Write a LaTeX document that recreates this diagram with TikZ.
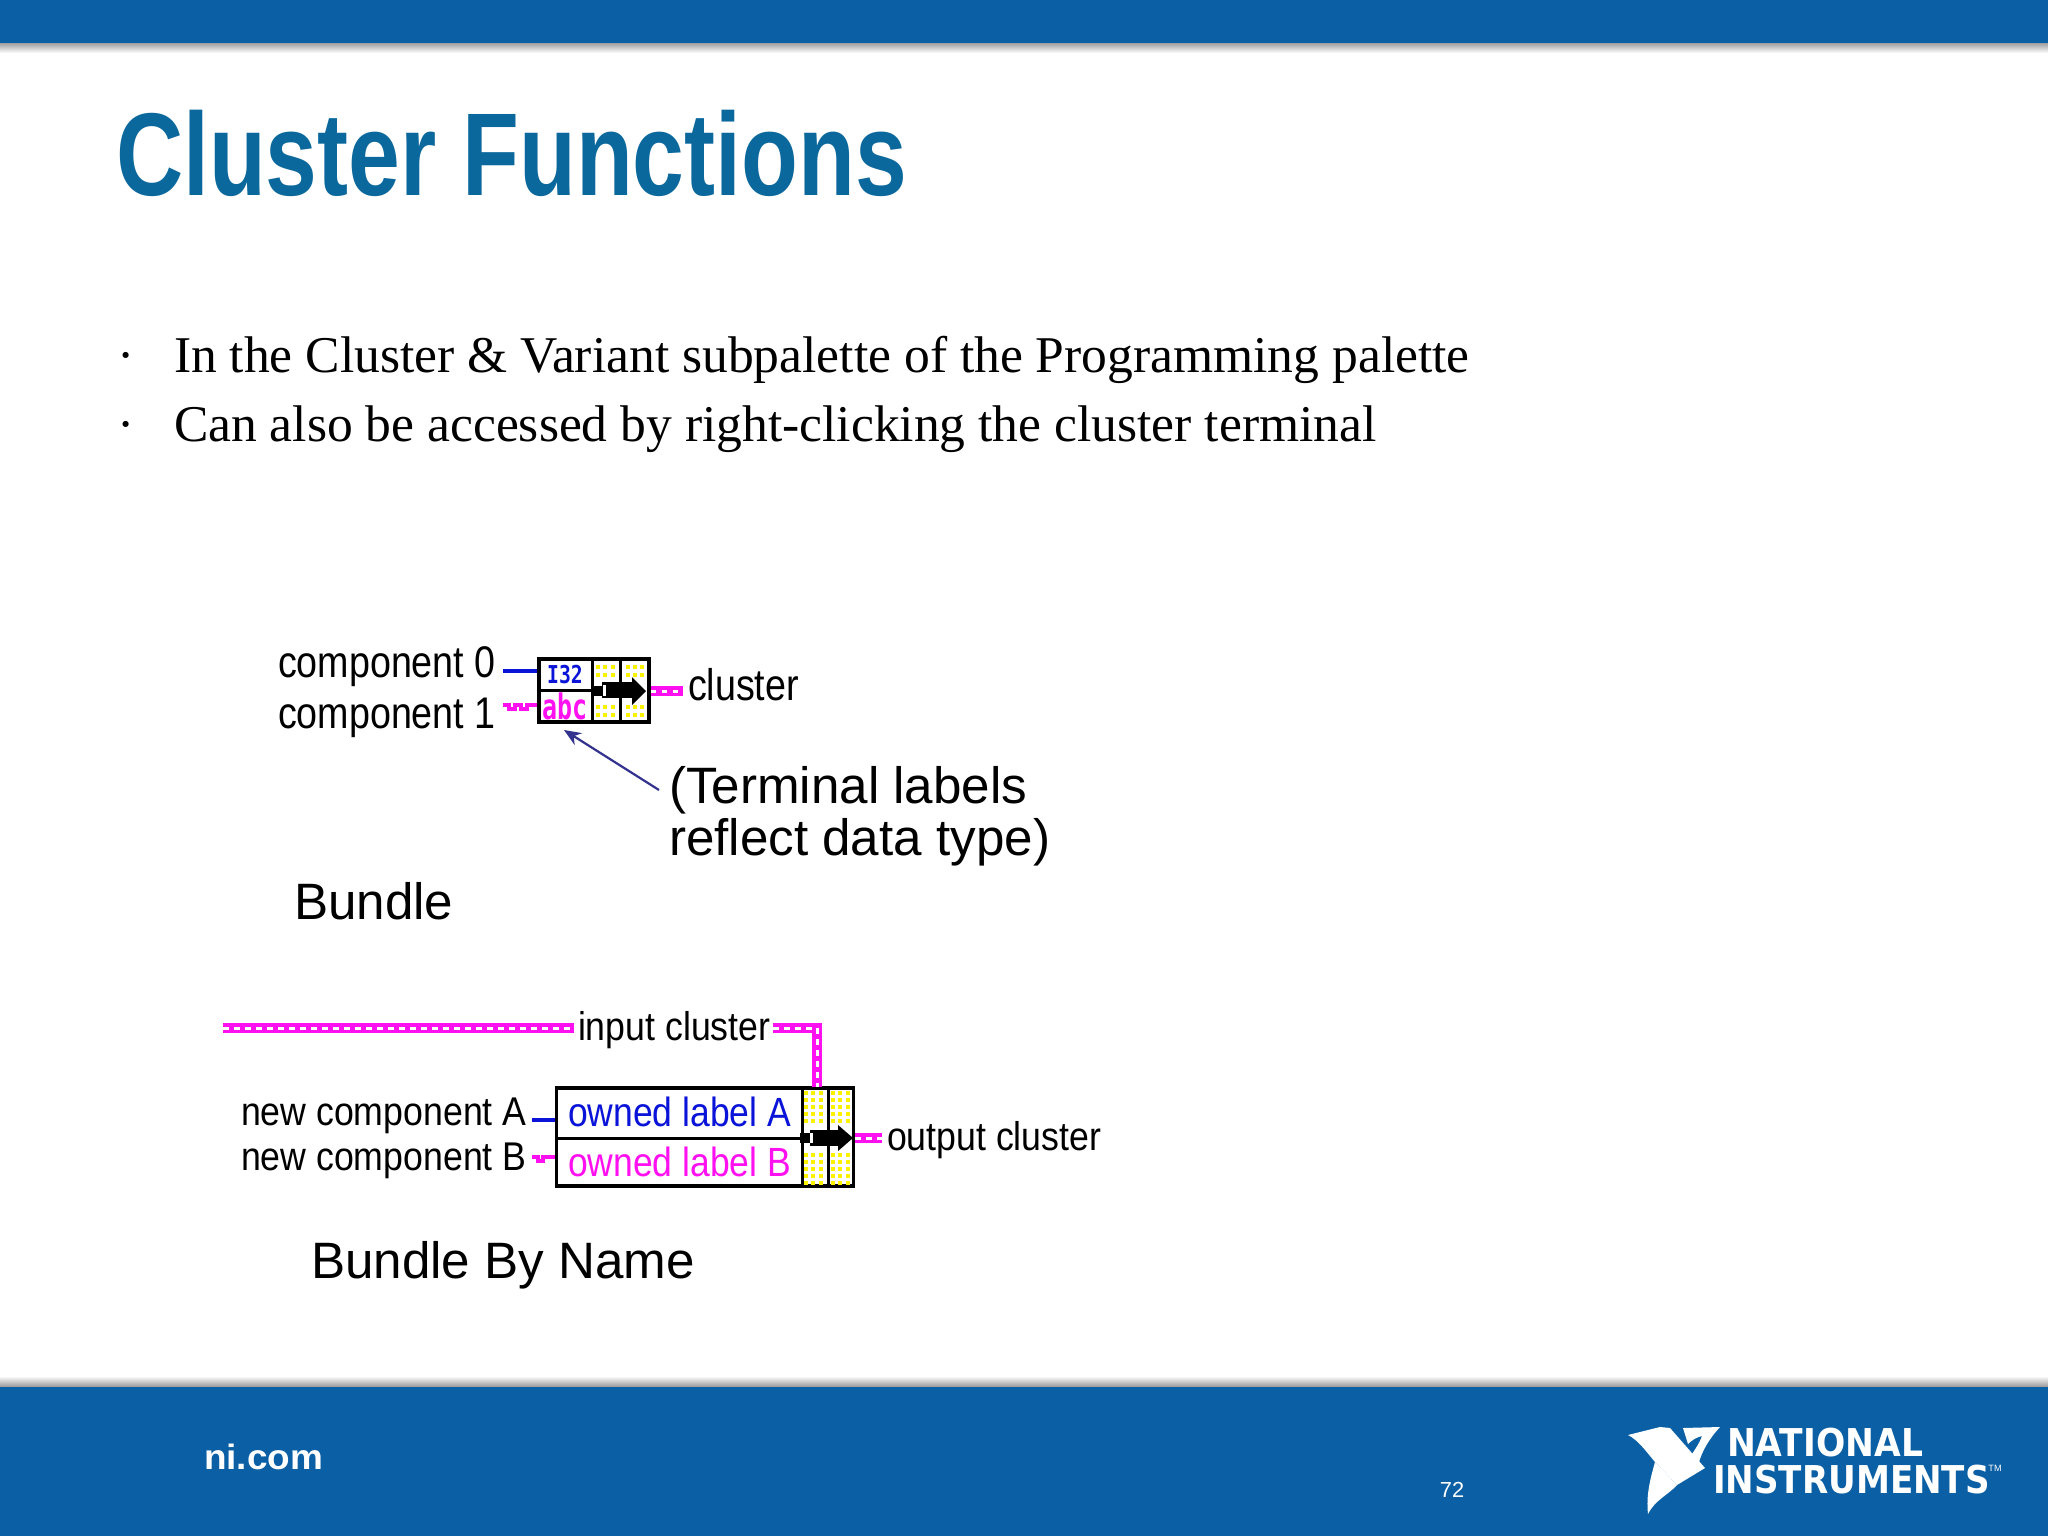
\documentclass[tikz,border=0pt]{standalone}
\usepackage{fontspec}
\setmainfont{Liberation Sans}
\newfontfamily\bodyserif{Liberation Serif}
\newfontfamily\iconmono{DejaVu Sans Mono}
\newfontfamily\logofont{DejaVu Sans}
\usetikzlibrary{arrows.meta}
\definecolor{nibar}{HTML}{0A5FA5}
\definecolor{nititle}{HTML}{0B689C}
\definecolor{wirepink}{HTML}{FF10F0}
\definecolor{wireblue}{HTML}{0A14D8}
\definecolor{notearrow}{HTML}{33338F}
\tikzset{
  plain/.style={inner sep=0,outer sep=0},
  pixtext/.style={plain,font=\fontsize{12.6}{15}\selectfont,xscale=0.85},
  pixsmall/.style={plain,font=\fontsize{11.4}{14}\selectfont,xscale=0.89},
  slidetext/.style={plain,font=\fontsize{14.55}{15}\selectfont,align=left},
  bullettext/.style={plain,anchor=base west,font=\bodyserif\fontsize{14.66}{17}\selectfont},
  iconbox/.style={draw=black,line width=0.035cm,fill=white,minimum width=#1},
  celldiv/.style={black,line width=0.03cm},
  clusterwire/.style={white,line width=0.03cm,dash pattern=on 0.055cm off 0.055cm,
    preaction={draw,solid,wirepink,line width=0.1cm}},
  numwire/.style={wireblue,line width=0.035cm},
  textwire/.style={wirepink,line width=0.04cm},
  logotext/.style={plain,anchor=base west,white,font=\logofont\bfseries\fontsize{10.9}{12}\selectfont},
}
\begin{document}
\begin{tikzpicture}[>=latex,x=0.01cm,y=-0.01cm]
\useasboundingbox (0,0) rectangle (2048,1536);
% bars
\fill[nibar] (0,0) rectangle (2048,43);
\shade[top color=gray!75,bottom color=white] (0,43) rectangle (2048,53);
\fill[nibar] (0,1386) rectangle (2048,1536);
\shade[top color=white,bottom color=gray!75] (0,1376) rectangle (2048,1386);
% title and bullets
\node[plain,anchor=base west,nititle,font=\bfseries\fontsize{33.5}{36}\selectfont,xscale=0.79] (title) at (116,195) {Cluster Functions};
\node[bullettext] (dota) at (117,372) {·};
\node[bullettext] (dotb) at (117,441) {·};
\node[bullettext] (linea) at (174,372) {In the Cluster \& Variant subpalette of the Programming palette};
\node[bullettext] (lineb) at (174,441) {Can also be accessed by right-clicking the cluster terminal};
% bundle
\node[iconbox=1.1cm,minimum height=0.63cm] (bundle) at (594,690.5) {};
\draw[celldiv] (592,658) -- (592,723);
\draw[celldiv] (620,658) -- (620,723);
\draw[celldiv] (538,690) -- (592,690);
\foreach \x in {598,605,613,628,635,642}
  \foreach \y in {667,675,707,715}
    \fill[yellow] (\x-2,\y-2) rectangle (\x+2,\y+2);
\node[plain,wireblue,font=\iconmono\bfseries\fontsize{7}{8}\selectfont,xscale=0.8] (itype) at (565,675) {I32};
\node[plain,wirepink,font=\iconmono\bfseries\fontsize{10}{11}\selectfont,xscale=0.71] (abc) at (565,706) {abc};
\fill[black] (592,686) rectangle (603,696);
\fill[black] (602,682) rectangle (634,698);
\fill[white] (603,685) rectangle (606,696);
\fill[black] (632,677) -- (646,691) -- (632,705) -- cycle;
\node[pixtext,anchor=west] (compa) at (278,667) {component 0};
\node[pixtext,anchor=west] (compb) at (278,718) {component 1};
\node[pixtext,anchor=west] (cluster) at (688,685) {cluster};
\coordinate (compaend) at (503,671);
\coordinate (compbend) at (503,705);
\coordinate (clusterend) at (683,691);
\draw[numwire] (compaend) -- (bundle.west |- compaend);
\draw[textwire] (compbend) -- ++(6,0) -- ++(0,4) -- ++(6,0) -- ++(0,-4) -- ++(6,0) -- ++(0,4) -- ++(6,0) -- ++(0,-4) -- (bundle.west |- compbend);
\draw[clusterwire] (bundle.east |- clusterend) -- (clusterend);
\node[slidetext,anchor=north west] (note) at (669,766) {(Terminal labels\\[0pt]reflect data type)};
\coordinate (notetip) at (564,730);
\coordinate (notetail) at (659,790);
\draw[-{Stealth[length=0.17cm,width=0.14cm]},notearrow,line width=0.022cm] (notetail) -- (notetip);
\node[slidetext,anchor=base west] (bundlename) at (294,919) {Bundle};
% bundle by name
\node[iconbox=2.97cm,minimum height=0.98cm] (byname) at (705,1137) {};
\draw[celldiv] (802,1087) -- (802,1187);
\draw[celldiv] (828,1087) -- (828,1187);
\draw[celldiv] (555,1138) -- (802,1138);
\foreach \x in {806,813,821,833,840,848}
  \foreach \y in {1093,1100,1107,1114,1121,1155,1162,1169,1176,1183}
    \fill[yellow] (\x-1.7,\y-1.7) rectangle (\x+1.7,\y+1.7);
\node[plain,wireblue,anchor=west,font=\fontsize{11.6}{14}\selectfont,xscale=0.87] (ownera) at (568,1112) {owned label A};
\node[plain,wirepink,anchor=west,font=\fontsize{11.6}{14}\selectfont,xscale=0.87] (ownerb) at (568,1162) {owned label B};
\fill[black] (800,1133) rectangle (811,1143);
\fill[black] (810,1130) rectangle (840,1146);
\fill[white] (810,1133) rectangle (813,1143);
\fill[black] (838,1125) -- (853,1138) -- (838,1151) -- cycle;
\node[pixsmall,anchor=west] (newa) at (241,1116) {new component A};
\node[pixsmall,anchor=west] (newb) at (241,1161) {new component B};
\node[pixsmall,anchor=west] (output) at (887,1140) {output cluster};
\node[pixsmall,anchor=west] (input) at (578,1030) {input cluster};
\coordinate (inputstart) at (223,1028);
\coordinate (inputback) at (773,1028);
\coordinate (outputend) at (882,1138);
\coordinate (newaend) at (532,1120);
\coordinate (newbend) at (532,1157);
\draw[clusterwire] (inputstart) -- (574,1028);
\draw[clusterwire] (inputback) -- (817,1028) -- (817,1087);
\draw[clusterwire] (byname.east |- outputend) -- (outputend);
\draw[numwire] (newaend) -- (byname.west |- newaend);
\draw[textwire] (newbend) -- ++(6,0) -- ++(0,4) -- ++(5,0) -- ++(0,-4) -- (byname.west |- newbend);
\node[slidetext,anchor=base west] (bynamename) at (311,1278) {Bundle By Name};
% footer
\node[plain,anchor=west,white,font=\bfseries\fontsize{10}{12}\selectfont,xscale=1.05] (nicom) at (204,1457) {ni.com};
\node[plain,white,font=\fontsize{6.2}{8}\selectfont] (page) at (1452,1490) {72};
\fill[white] (1628,1435) -- (1660,1427) -- (1670,1428) -- (1705,1468) -- (1677,1485) -- (1655,1462) .. controls (1645,1450) and (1638,1440) .. (1628,1435) -- cycle;
\fill[white] (1655,1462) .. controls (1650,1480) and (1646,1495) .. (1648,1514) .. controls (1655,1500) and (1668,1495) .. (1677,1485) -- cycle;
\fill[white] (1683,1428) -- (1720,1427) .. controls (1708,1440) and (1702,1452) .. (1699,1462) -- (1692,1454) .. controls (1696,1448) and (1700,1442) .. (1702,1436) .. controls (1697,1437) and (1692,1440) .. (1688,1444) -- cycle;
\node[logotext,xscale=0.9] (national) at (1727,1456) {NATIONAL};
\node[logotext,xscale=0.89] (instruments) at (1713,1493) {INSTRUMENTS};
\node[plain,white,font=\fontsize{2.6}{3}\selectfont] (tm) at (1995,1468) {TM};
\end{tikzpicture}
\end{document}
